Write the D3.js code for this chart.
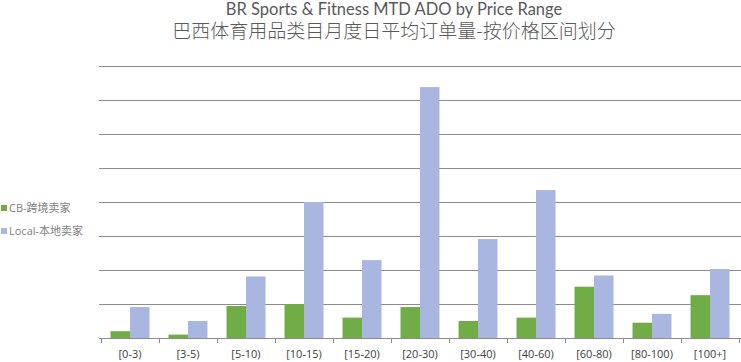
<!DOCTYPE html>
<html>
<head>
<meta charset="utf-8">
<script src="https://cdn.jsdelivr.net/npm/d3@7"></script>
<style>
  html, body { margin: 0; padding: 0; background: #fff; }
  svg { display: block; }
</style>
</head>
<body>
<svg id="chart" width="741" height="362"></svg>
<script>
const categories = ["[0-3)", "[3-5)", "[5-10)", "[10-15)", "[15-20)", "[20-30)", "[30-40)", "[40-60)", "[60-80)", "[80-100)", "[100+]"];
const seriesNames = ["CB-跨境卖家", "Local-本地卖家"];
const cbValues    = [0.20, 0.10, 0.94, 1.00, 0.60, 0.91, 0.50, 0.60, 1.51, 0.45, 1.26];
const localValues = [0.91, 0.50, 1.81, 4.00, 2.29, 7.38, 2.91, 4.35, 1.84, 0.71, 2.03];
const yTicks = [0, 1, 2, 3, 4, 5, 6, 7, 8];
const titleEn = "BR Sports & Fitness MTD ADO by Price Range";
const titleCn = "巴西体育用品类目月度日平均订单量-按价格区间划分";

const colors = ["#70ad47", "#a9b6df"];
const seriesValues = [cbValues, localValues];

const svg = d3.select("#chart");

const x0 = d3.scaleBand().domain(categories).range([101, 739])
  .paddingInner(0.328).paddingOuter(0.164);
const x1 = d3.scaleBand().domain(seriesNames).range([0, x0.bandwidth()]);
const y = d3.scaleLinear().domain([0, 8]).range([338, 66]);

// gridlines
svg.append("g").selectAll("line").data(yTicks).join("line")
  .attr("x1", 99).attr("x2", 741)
  .attr("y1", d => Math.round(y(d)) + 0.5).attr("y2", d => Math.round(y(d)) + 0.5)
  .attr("stroke", "#8c8c8c").attr("stroke-width", 1);

// bars
const groups = svg.append("g").selectAll("g").data(categories).join("g")
  .attr("transform", d => `translate(${x0(d)},0)`);
groups.selectAll("rect")
  .data((d, i) => seriesNames.map((s, j) => ({ s, v: seriesValues[j][i], j })))
  .join("rect")
  .attr("x", d => x1(d.s))
  .attr("width", x1.bandwidth())
  .attr("y", d => y(d.v))
  .attr("height", d => y(0) - y(d.v))
  .attr("fill", d => colors[d.j]);

// x axis ticks at band boundaries
const step = x0.step();
const boundaries = d3.range(categories.length + 1).map(i => 101 + i * step);
svg.append("g").selectAll("line").data(boundaries).join("line")
  .attr("x1", d => Math.round(d) + 0.5).attr("x2", d => Math.round(d) + 0.5)
  .attr("y1", 338).attr("y2", 343)
  .attr("stroke", "#8c8c8c").attr("stroke-width", 1);

// x labels
svg.append("g").selectAll("text").data(categories).join("text")
  .attr("x", d => x0(d) + x0.bandwidth() / 2)
  .attr("y", 358)
  .attr("text-anchor", "middle")
  .attr("font-family", "'Open Sans', 'Noto Sans', sans-serif")
  .attr("font-size", 11)
  .attr("fill", "#404040")
  .text(d => d);

// title (two lines in one text element)
const title = svg.append("text")
  .attr("text-anchor", "middle")
  .attr("fill", "#595959");
title.append("tspan")
  .attr("x", 394).attr("y", 15)
  .attr("font-family", "Lato, 'Open Sans', sans-serif")
  .attr("font-size", 16.5)
  .text(titleEn);
title.append("tspan")
  .attr("x", 394).attr("y", 38)
  .attr("font-family", "'Noto Sans CJK SC', sans-serif")
  .attr("font-size", 19)
  .attr("font-weight", 300)
  .text(titleCn);

// legend
const legend = svg.append("g").selectAll("g").data(seriesNames).join("g")
  .attr("transform", (d, i) => `translate(1,${205 + i * 23})`);
legend.append("rect")
  .attr("x", 0).attr("y", 0).attr("width", 6).attr("height", 6)
  .attr("fill", (d, i) => colors[i]);
legend.append("text")
  .attr("x", 8).attr("y", 7)
  .attr("font-family", "'Open Sans', 'Noto Sans CJK SC', sans-serif")
  .attr("font-size", 11)
  .attr("fill", "#7f7f7f")
  .text(d => d);
</script>
</body>
</html>
